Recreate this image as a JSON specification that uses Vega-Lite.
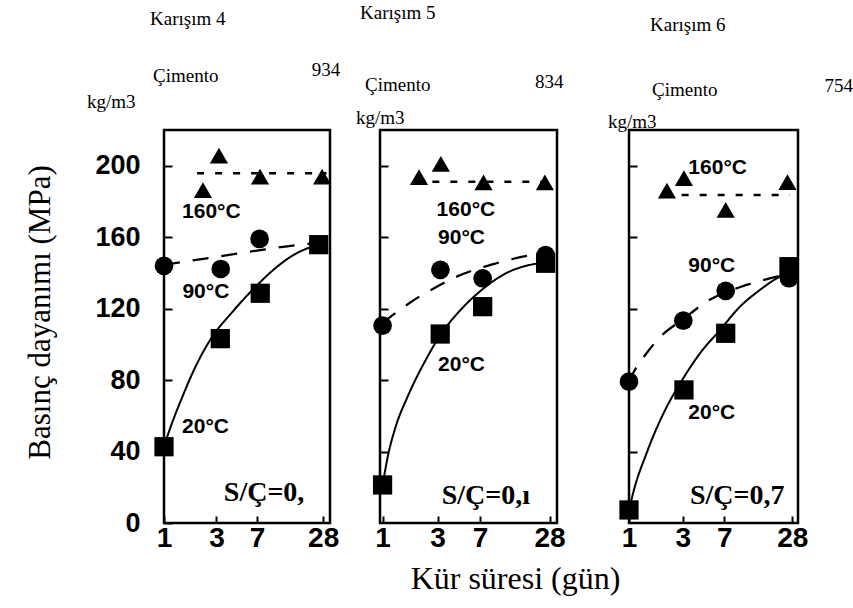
{
  "$schema": "https://vega.github.io/schema/vega-lite/v6.json",
  "autosize": {"type": "none"},
  "padding": {"left": 164, "top": 130, "right": 689, "bottom": 478},
  "background": "white",
  "config": {
    "view": {"stroke": "black", "strokeWidth": 2.5},
    "axis": {"grid": false, "domain": false, "tickColor": "black", "tickWidth": 2, "labelColor": "black", "titleColor": "black", "labelFlush": false, "labelOverlap": false, "labelBound": false}
  },
  "datasets": {
    "pts": [
      {"mix": "Karışım 4", "temp": "20°C", "day": 1, "mpa": 42.7},
      {"mix": "Karışım 4", "temp": "20°C", "day": 3.25, "mpa": 103.2},
      {"mix": "Karışım 4", "temp": "20°C", "day": 7.5, "mpa": 128.6},
      {"mix": "Karışım 4", "temp": "20°C", "day": 25.5, "mpa": 155.8},
      {"mix": "Karışım 4", "temp": "90°C", "day": 1, "mpa": 144},
      {"mix": "Karışım 4", "temp": "90°C", "day": 3.28, "mpa": 142.2},
      {"mix": "Karışım 4", "temp": "90°C", "day": 7.4, "mpa": 159},
      {"mix": "Karışım 4", "temp": "160°C", "day": 2.26, "mpa": 186.4},
      {"mix": "Karışım 4", "temp": "160°C", "day": 3.16, "mpa": 205.7},
      {"mix": "Karışım 4", "temp": "160°C", "day": 7.46, "mpa": 193.9},
      {"mix": "Karışım 4", "temp": "160°C", "day": 27.4, "mpa": 193.9},
      {"mix": "Karışım 5", "temp": "20°C", "day": 1, "mpa": 21.3},
      {"mix": "Karışım 5", "temp": "20°C", "day": 3.16, "mpa": 105.8},
      {"mix": "Karışım 5", "temp": "20°C", "day": 7.37, "mpa": 121.1},
      {"mix": "Karışım 5", "temp": "20°C", "day": 25.9, "mpa": 145.4},
      {"mix": "Karışım 5", "temp": "90°C", "day": 1, "mpa": 110.5},
      {"mix": "Karışım 5", "temp": "90°C", "day": 3.17, "mpa": 141.7},
      {"mix": "Karışım 5", "temp": "90°C", "day": 7.37, "mpa": 137},
      {"mix": "Karışım 5", "temp": "90°C", "day": 25.9, "mpa": 150},
      {"mix": "Karışım 5", "temp": "160°C", "day": 2.07, "mpa": 193.6},
      {"mix": "Karışım 5", "temp": "160°C", "day": 3.2, "mpa": 201},
      {"mix": "Karışım 5", "temp": "160°C", "day": 7.5, "mpa": 190.7},
      {"mix": "Karışım 5", "temp": "160°C", "day": 25.5, "mpa": 190.7},
      {"mix": "Karışım 6", "temp": "20°C", "day": 1, "mpa": 7.3},
      {"mix": "Karışım 6", "temp": "20°C", "day": 3.07, "mpa": 74.5},
      {"mix": "Karışım 6", "temp": "20°C", "day": 7.2, "mpa": 106.2},
      {"mix": "Karışım 6", "temp": "20°C", "day": 26.2, "mpa": 143.5},
      {"mix": "Karışım 6", "temp": "90°C", "day": 1, "mpa": 79.1},
      {"mix": "Karışım 6", "temp": "90°C", "day": 3.03, "mpa": 113.3},
      {"mix": "Karışım 6", "temp": "90°C", "day": 7.2, "mpa": 130},
      {"mix": "Karışım 6", "temp": "90°C", "day": 26.2, "mpa": 137},
      {"mix": "Karışım 6", "temp": "160°C", "day": 2.17, "mpa": 186},
      {"mix": "Karışım 6", "temp": "160°C", "day": 3.07, "mpa": 193},
      {"mix": "Karışım 6", "temp": "160°C", "day": 7.2, "mpa": 175.3},
      {"mix": "Karışım 6", "temp": "160°C", "day": 25.4, "mpa": 190.8}
    ],
    "curves": [
      {"mix": "Karışım 4", "temp": "20°C", "day": 1, "mpa": 43},
      {"mix": "Karışım 4", "temp": "20°C", "day": 1.2, "mpa": 57},
      {"mix": "Karışım 4", "temp": "20°C", "day": 1.5, "mpa": 72},
      {"mix": "Karışım 4", "temp": "20°C", "day": 1.85, "mpa": 85},
      {"mix": "Karışım 4", "temp": "20°C", "day": 2.6, "mpa": 102},
      {"mix": "Karışım 4", "temp": "20°C", "day": 4.3, "mpa": 119},
      {"mix": "Karışım 4", "temp": "20°C", "day": 6.5, "mpa": 131},
      {"mix": "Karışım 4", "temp": "20°C", "day": 10, "mpa": 142},
      {"mix": "Karışım 4", "temp": "20°C", "day": 15, "mpa": 150},
      {"mix": "Karışım 4", "temp": "20°C", "day": 23, "mpa": 155},
      {"mix": "Karışım 4", "temp": "20°C", "day": 28, "mpa": 156.5},
      {"mix": "Karışım 4", "temp": "90°C", "day": 1, "mpa": 144.5},
      {"mix": "Karışım 4", "temp": "90°C", "day": 3, "mpa": 149},
      {"mix": "Karışım 4", "temp": "90°C", "day": 7, "mpa": 152.5},
      {"mix": "Karışım 4", "temp": "90°C", "day": 16, "mpa": 155.6},
      {"mix": "Karışım 4", "temp": "90°C", "day": 28, "mpa": 157},
      {"mix": "Karışım 4", "temp": "160°C", "day": 2, "mpa": 195.8},
      {"mix": "Karışım 4", "temp": "160°C", "day": 30, "mpa": 195.8},
      {"mix": "Karışım 5", "temp": "20°C", "day": 1, "mpa": 21},
      {"mix": "Karışım 5", "temp": "20°C", "day": 1.1, "mpa": 36},
      {"mix": "Karışım 5", "temp": "20°C", "day": 1.3, "mpa": 54},
      {"mix": "Karışım 5", "temp": "20°C", "day": 1.63, "mpa": 70},
      {"mix": "Karışım 5", "temp": "20°C", "day": 2.4, "mpa": 92},
      {"mix": "Karışım 5", "temp": "20°C", "day": 3.15, "mpa": 105},
      {"mix": "Karışım 5", "temp": "20°C", "day": 4.7, "mpa": 119},
      {"mix": "Karışım 5", "temp": "20°C", "day": 7.4, "mpa": 131},
      {"mix": "Karışım 5", "temp": "20°C", "day": 11.9, "mpa": 140},
      {"mix": "Karışım 5", "temp": "20°C", "day": 19, "mpa": 144.5},
      {"mix": "Karışım 5", "temp": "20°C", "day": 28, "mpa": 146},
      {"mix": "Karışım 5", "temp": "90°C", "day": 1, "mpa": 112},
      {"mix": "Karışım 5", "temp": "90°C", "day": 2, "mpa": 126},
      {"mix": "Karışım 5", "temp": "90°C", "day": 3, "mpa": 132.5},
      {"mix": "Karışım 5", "temp": "90°C", "day": 4.25, "mpa": 137.5},
      {"mix": "Karışım 5", "temp": "90°C", "day": 9.7, "mpa": 145.4},
      {"mix": "Karışım 5", "temp": "90°C", "day": 17.7, "mpa": 149.5},
      {"mix": "Karışım 5", "temp": "90°C", "day": 28, "mpa": 151.5},
      {"mix": "Karışım 5", "temp": "160°C", "day": 2.7, "mpa": 191},
      {"mix": "Karışım 5", "temp": "160°C", "day": 30, "mpa": 191},
      {"mix": "Karışım 6", "temp": "20°C", "day": 1, "mpa": 7},
      {"mix": "Karışım 6", "temp": "20°C", "day": 1.09, "mpa": 17},
      {"mix": "Karışım 6", "temp": "20°C", "day": 1.43, "mpa": 39},
      {"mix": "Karışım 6", "temp": "20°C", "day": 2.16, "mpa": 65},
      {"mix": "Karışım 6", "temp": "20°C", "day": 2.83, "mpa": 78},
      {"mix": "Karışım 6", "temp": "20°C", "day": 4.26, "mpa": 95},
      {"mix": "Karışım 6", "temp": "20°C", "day": 6.4, "mpa": 108},
      {"mix": "Karışım 6", "temp": "20°C", "day": 9.6, "mpa": 121},
      {"mix": "Karışım 6", "temp": "20°C", "day": 14.5, "mpa": 130.5},
      {"mix": "Karışım 6", "temp": "20°C", "day": 21.8, "mpa": 138},
      {"mix": "Karışım 6", "temp": "20°C", "day": 28, "mpa": 141},
      {"mix": "Karışım 6", "temp": "90°C", "day": 1, "mpa": 79},
      {"mix": "Karışım 6", "temp": "90°C", "day": 1.09, "mpa": 84},
      {"mix": "Karışım 6", "temp": "90°C", "day": 1.43, "mpa": 95},
      {"mix": "Karışım 6", "temp": "90°C", "day": 1.88, "mpa": 104},
      {"mix": "Karışım 6", "temp": "90°C", "day": 3, "mpa": 114},
      {"mix": "Karışım 6", "temp": "90°C", "day": 5.2, "mpa": 125},
      {"mix": "Karışım 6", "temp": "90°C", "day": 9.6, "mpa": 132},
      {"mix": "Karışım 6", "temp": "90°C", "day": 15.5, "mpa": 136},
      {"mix": "Karışım 6", "temp": "90°C", "day": 28, "mpa": 140},
      {"mix": "Karışım 6", "temp": "160°C", "day": 2.93, "mpa": 183.6},
      {"mix": "Karışım 6", "temp": "160°C", "day": 26.7, "mpa": 183.6}
    ],
    "labels": [
      {"mix": "Karışım 4", "kind": "temp", "label": "160°C", "day": 1.46, "mpa": 174},
      {"mix": "Karışım 4", "kind": "temp", "label": "90°C", "day": 1.47, "mpa": 129.5},
      {"mix": "Karışım 4", "kind": "temp", "label": "20°C", "day": 1.46, "mpa": 53.9},
      {"mix": "Karışım 4", "kind": "sc", "label": "S/Ç=0,", "day": 3.5, "mpa": 16.8},
      {"mix": "Karışım 4", "kind": "top", "label": "Karışım 4", "day": 0.746, "mpa": 282.2},
      {"mix": "Karışım 4", "kind": "top", "label": "Çimento", "day": 0.794, "mpa": 250.3},
      {"mix": "Karışım 4", "kind": "top", "label": "934", "day": 22.1, "mpa": 253.6},
      {"mix": "Karışım 4", "kind": "top", "label": "kg/m3", "day": 0.1995, "mpa": 235.7},
      {"mix": "Karışım 5", "kind": "temp", "label": "160°C", "day": 2.94, "mpa": 175.3},
      {"mix": "Karışım 5", "kind": "temp", "label": "90°C", "day": 3.03, "mpa": 159.4},
      {"mix": "Karışım 5", "kind": "temp", "label": "20°C", "day": 3.03, "mpa": 88.5},
      {"mix": "Karışım 5", "kind": "sc", "label": "S/Ç=0,ı", "day": 3.25, "mpa": 15.1},
      {"mix": "Karışım 5", "kind": "top", "label": "Karışım 5", "day": 0.637, "mpa": 285.6},
      {"mix": "Karışım 5", "kind": "top", "label": "Çimento", "day": 0.704, "mpa": 245.2},
      {"mix": "Karışım 5", "kind": "top", "label": "834", "day": 20.9, "mpa": 246.9},
      {"mix": "Karışım 5", "kind": "top", "label": "kg/m3", "day": 0.588, "mpa": 226.8},
      {"mix": "Karışım 6", "kind": "temp", "label": "160°C", "day": 3.36, "mpa": 198.6},
      {"mix": "Karışım 6", "kind": "temp", "label": "90°C", "day": 3.36, "mpa": 144},
      {"mix": "Karışım 6", "kind": "temp", "label": "20°C", "day": 3.36, "mpa": 61.4},
      {"mix": "Karışım 6", "kind": "sc", "label": "S/Ç=0,7", "day": 3.47, "mpa": 15.2},
      {"mix": "Karışım 6", "kind": "top", "label": "Karışım 6", "day": 1.535, "mpa": 278.8},
      {"mix": "Karışım 6", "kind": "top", "label": "Çimento", "day": 1.6, "mpa": 242.4},
      {"mix": "Karışım 6", "kind": "top", "label": "754", "day": 54, "mpa": 244.7},
      {"mix": "Karışım 6", "kind": "top", "label": "kg/m3", "day": 0.651, "mpa": 224.5}
    ]
  },
  "bounds": "flush",
  "spacing": 50,
  "hconcat": [
    {
      "width": 166, "height": 393,
      "encoding": {
        "x": {"field": "day", "type": "quantitative", "scale": {"type": "log", "domain": [1, 32.3], "nice": false},
          "axis": {"values": [1, 3, 7, 28], "format": "d", "title": null, "labelFont": "Liberation Sans", "labelFontWeight": "bold", "labelFontSize": 28, "labelPadding": 8, "tickSize": -7}},
        "y": {"field": "mpa", "type": "quantitative", "scale": {"domain": [0, 220], "nice": false},
          "axis": {"values": [0, 40, 80, 120, 160, 200], "labelFont": "Liberation Sans", "labelFontWeight": "bold", "labelFontSize": 27, "labelPadding": 32, "tickSize": -8,
            "title": "Basınç dayanımı (MPa)", "titleFont": "Liberation Serif", "titleFontWeight": "normal", "titleFontSize": 31, "titleAngle": 270, "titleAlign": "center", "titleBaseline": "middle", "titleX": -124, "titleY": 182}}
      },
      "layer": [
        {"data": {"name": "curves"}, "transform": [{"filter": "datum.mix === 'Karışım 4'"}],
          "mark": {"type": "line", "interpolate": "monotone", "color": "black"},
          "encoding": {"detail": {"field": "temp"},
            "strokeDash": {"field": "temp", "type": "nominal", "scale": {"domain": ["20°C", "90°C", "160°C"], "range": [[1, 0], [16, 13], [7, 11]]}, "legend": null},
            "strokeWidth": {"field": "temp", "type": "ordinal", "scale": {"domain": ["20°C", "90°C", "160°C"], "range": [2, 2.5, 3]}, "legend": null}}},
        {"data": {"name": "pts"}, "transform": [{"filter": "datum.mix === 'Karışım 4'"}],
          "mark": {"type": "point", "filled": true, "color": "black", "opacity": 1},
          "encoding": {
            "shape": {"field": "temp", "type": "nominal", "scale": {"domain": ["20°C", "90°C", "160°C"], "range": ["square", "circle", "triangle-up"]}, "legend": null},
            "size": {"field": "temp", "type": "ordinal", "scale": {"domain": ["20°C", "90°C", "160°C"], "range": [370, 330, 560]}, "legend": null}}},
        {"data": {"name": "labels"}, "transform": [{"filter": "datum.mix === 'Karışım 4' && datum.kind === 'temp'"}],
          "mark": {"type": "text", "align": "left", "baseline": "middle", "font": "Liberation Sans", "fontWeight": "bold", "fontSize": 21, "color": "black"},
          "encoding": {"text": {"field": "label"}}},
        {"data": {"name": "labels"}, "transform": [{"filter": "datum.mix === 'Karışım 4' && datum.kind === 'sc'"}],
          "mark": {"type": "text", "align": "left", "baseline": "middle", "font": "Liberation Serif", "fontWeight": "bold", "fontSize": 28, "color": "black"},
          "encoding": {"text": {"field": "label"}}},
        {"data": {"name": "labels"}, "transform": [{"filter": "datum.mix === 'Karışım 4' && datum.kind === 'top'"}],
          "mark": {"type": "text", "align": "left", "baseline": "middle", "font": "Liberation Serif", "fontWeight": "normal", "fontSize": 19, "color": "black"},
          "encoding": {"text": {"field": "label"}}}
      ]
    },
    {
      "bounds": "flush",
      "spacing": 72,
      "hconcat": [
        {
          "width": 177, "height": 393,
          "encoding": {
            "x": {"field": "day", "type": "quantitative", "scale": {"type": "log", "domain": [0.95, 32.5], "nice": false},
              "axis": {"values": [1, 3, 7, 28], "format": "d", "labelFont": "Liberation Sans", "labelFontWeight": "bold", "labelFontSize": 28, "labelPadding": 8, "tickSize": -7,
                "title": "Kür süresi (gün)", "titleFont": "Liberation Serif", "titleFontWeight": "normal", "titleFontSize": 32, "titleAlign": "center", "titleBaseline": "middle", "titleX": 135, "titleY": 55}},
            "y": {"field": "mpa", "type": "quantitative", "scale": {"domain": [0, 220], "nice": false},
              "axis": {"values": [40, 80, 120, 160, 200], "labels": false, "title": null, "tickSize": -8}}
          },
          "layer": [
            {"data": {"name": "curves"}, "transform": [{"filter": "datum.mix === 'Karışım 5'"}],
              "mark": {"type": "line", "interpolate": "monotone", "color": "black"},
              "encoding": {"detail": {"field": "temp"},
                "strokeDash": {"field": "temp", "type": "nominal", "scale": {"domain": ["20°C", "90°C", "160°C"], "range": [[1, 0], [16, 13], [7, 11]]}, "legend": null},
                "strokeWidth": {"field": "temp", "type": "ordinal", "scale": {"domain": ["20°C", "90°C", "160°C"], "range": [2, 2.5, 3]}, "legend": null}}},
            {"data": {"name": "pts"}, "transform": [{"filter": "datum.mix === 'Karışım 5'"}],
              "mark": {"type": "point", "filled": true, "color": "black", "opacity": 1},
              "encoding": {
                "shape": {"field": "temp", "type": "nominal", "scale": {"domain": ["20°C", "90°C", "160°C"], "range": ["square", "circle", "triangle-up"]}, "legend": null},
                "size": {"field": "temp", "type": "ordinal", "scale": {"domain": ["20°C", "90°C", "160°C"], "range": [370, 330, 560]}, "legend": null}}},
            {"data": {"name": "labels"}, "transform": [{"filter": "datum.mix === 'Karışım 5' && datum.kind === 'temp'"}],
              "mark": {"type": "text", "align": "left", "baseline": "middle", "font": "Liberation Sans", "fontWeight": "bold", "fontSize": 21, "color": "black"},
              "encoding": {"text": {"field": "label"}}},
            {"data": {"name": "labels"}, "transform": [{"filter": "datum.mix === 'Karışım 5' && datum.kind === 'sc'"}],
              "mark": {"type": "text", "align": "left", "baseline": "middle", "font": "Liberation Serif", "fontWeight": "bold", "fontSize": 28, "color": "black"},
              "encoding": {"text": {"field": "label"}}},
            {"data": {"name": "labels"}, "transform": [{"filter": "datum.mix === 'Karışım 5' && datum.kind === 'top'"}],
              "mark": {"type": "text", "align": "left", "baseline": "middle", "font": "Liberation Serif", "fontWeight": "normal", "fontSize": 19, "color": "black"},
              "encoding": {"text": {"field": "label"}}}
          ]
        },
        {
          "width": 169, "height": 393,
          "encoding": {
            "x": {"field": "day", "type": "quantitative", "scale": {"type": "log", "domain": [1, 31.5], "nice": false},
              "axis": {"values": [1, 3, 7, 28], "format": "d", "title": null, "labelFont": "Liberation Sans", "labelFontWeight": "bold", "labelFontSize": 28, "labelPadding": 8, "tickSize": -7}},
            "y": {"field": "mpa", "type": "quantitative", "scale": {"domain": [0, 220], "nice": false},
              "axis": {"values": [40, 80, 120, 160, 200], "labels": false, "title": null, "tickSize": -8}}
          },
          "layer": [
            {"data": {"name": "curves"}, "transform": [{"filter": "datum.mix === 'Karışım 6'"}],
              "mark": {"type": "line", "interpolate": "monotone", "color": "black"},
              "encoding": {"detail": {"field": "temp"},
                "strokeDash": {"field": "temp", "type": "nominal", "scale": {"domain": ["20°C", "90°C", "160°C"], "range": [[1, 0], [16, 13], [6, 9]]}, "legend": null},
                "strokeWidth": {"field": "temp", "type": "ordinal", "scale": {"domain": ["20°C", "90°C", "160°C"], "range": [2, 2.5, 3]}, "legend": null}}},
            {"data": {"name": "pts"}, "transform": [{"filter": "datum.mix === 'Karışım 6'"}],
              "mark": {"type": "point", "filled": true, "color": "black", "opacity": 1},
              "encoding": {
                "shape": {"field": "temp", "type": "nominal", "scale": {"domain": ["20°C", "90°C", "160°C"], "range": ["square", "circle", "triangle-up"]}, "legend": null},
                "size": {"field": "temp", "type": "ordinal", "scale": {"domain": ["20°C", "90°C", "160°C"], "range": [370, 330, 560]}, "legend": null}}},
            {"data": {"name": "labels"}, "transform": [{"filter": "datum.mix === 'Karışım 6' && datum.kind === 'temp'"}],
              "mark": {"type": "text", "align": "left", "baseline": "middle", "font": "Liberation Sans", "fontWeight": "bold", "fontSize": 21, "color": "black"},
              "encoding": {"text": {"field": "label"}}},
            {"data": {"name": "labels"}, "transform": [{"filter": "datum.mix === 'Karışım 6' && datum.kind === 'sc'"}],
              "mark": {"type": "text", "align": "left", "baseline": "middle", "font": "Liberation Serif", "fontWeight": "bold", "fontSize": 28, "color": "black"},
              "encoding": {"text": {"field": "label"}}},
            {"data": {"name": "labels"}, "transform": [{"filter": "datum.mix === 'Karışım 6' && datum.kind === 'top'"}],
              "mark": {"type": "text", "align": "left", "baseline": "middle", "font": "Liberation Serif", "fontWeight": "normal", "fontSize": 19, "color": "black"},
              "encoding": {"text": {"field": "label"}}}
          ]
        }
      ]
    }
  ]
}
